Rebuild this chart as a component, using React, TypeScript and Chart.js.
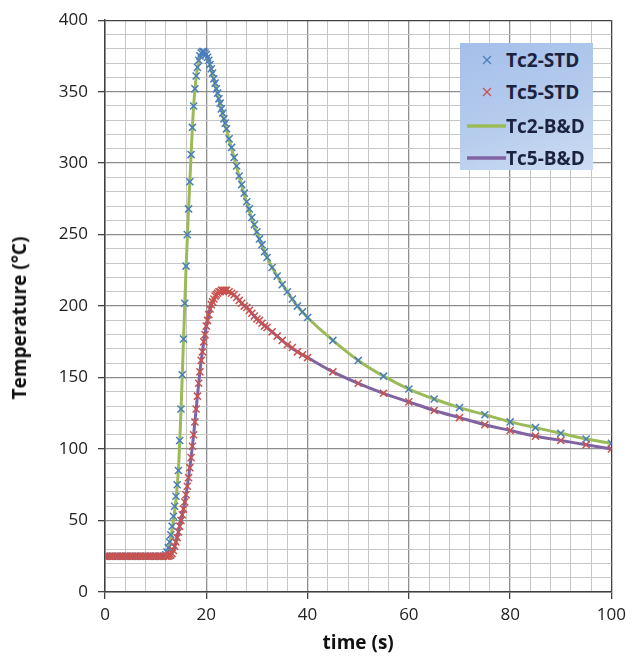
import React, { useEffect, useRef } from "react";
import { Chart, registerables } from "chart.js";

Chart.register(...registerables);

// ---------- data ----------
const stdTime = [
  0, 0.5, 1, 1.5, 2, 2.5, 3, 3.5, 4, 4.5, 5, 5.5, 6, 6.5, 7, 7.5, 8, 8.5, 9, 9.5, 10, 10.5, 11, 11.5, 12,
  12.25, 12.5, 12.75, 13, 13.25, 13.5, 13.75, 14, 14.25, 14.5, 14.75, 15, 15.25, 15.5, 15.75, 16,
  16.25, 16.5, 16.75, 17, 17.25, 17.5, 17.75, 18, 18.25, 18.5, 18.75, 19, 19.25, 19.5, 19.75, 20,
  20.25, 20.5, 20.75, 21, 21.25, 21.5, 21.75, 22, 22.25, 22.5, 22.75, 23, 23.25, 23.5, 23.75, 24,
  24.5, 25, 25.5, 26, 26.5, 27, 27.5, 28, 28.5, 29, 29.5, 30, 30.5, 31, 31.5, 32,
  33, 34, 35, 36, 37, 38, 39, 40,
  45, 50, 55, 60, 65, 70, 75, 80, 85, 90, 95, 100,
];

const tc2Std = [
  25, 25, 25, 25, 25, 25, 25, 25, 25, 25, 25, 25, 25, 25, 25, 25, 25, 25, 25, 25, 25, 25, 25, 25, 26,
  28, 31, 35, 40, 46, 53, 60, 67, 75, 85, 106, 128, 152, 177, 202, 228,
  250, 268, 287, 306, 325, 340, 352, 361, 367, 372, 375, 377, 378, 378, 377, 376,
  374, 372, 369, 366, 363, 359, 356, 352, 349, 345, 342, 338, 335, 331, 328, 324,
  317, 311, 304, 298, 291, 285, 279, 273, 268, 262, 257, 252, 247, 243, 238, 234,
  227, 221, 215, 210, 205, 200, 196, 192,
  176, 162, 151, 142, 135, 129, 124, 119, 115, 111, 107, 104,
];

const tc5Std = [
  25, 25, 25, 25, 25, 25, 25, 25, 25, 25, 25, 25, 25, 25, 25, 25, 25, 25, 25, 25, 25, 25, 25, 25, 25,
  25, 25, 25.5, 26, 27, 29, 32, 35, 38, 42, 46, 50, 54, 58, 63, 68,
  74, 80, 87, 94, 102, 110, 119, 128, 137, 146, 154, 162, 168, 175, 180, 186,
  190, 194, 198, 201, 203, 205, 207, 208, 209, 210, 210, 211, 211, 211, 211, 211,
  210, 209, 208, 206, 204, 202, 200, 199, 197, 195, 193, 191, 190, 188, 186, 185,
  182, 179, 176, 173, 171, 168, 166, 164,
  154, 146, 139, 133, 127, 122, 117, 113, 109, 106, 103, 100,
];

const bdTime = [
  0, 11, 12, 12.5, 13, 13.5, 14, 14.5, 15, 15.5, 16, 16.5, 17, 17.5, 18, 18.5, 19, 19.5, 20, 20.5,
  21, 22, 23, 24, 25, 26, 27, 28, 29, 30, 32, 34, 36, 38, 40,
  45, 50, 55, 60, 65, 70, 75, 80, 85, 90, 95, 100,
];

const tc2BD = [
  25, 25, 26, 30, 38, 50, 64, 86, 126, 176, 226, 268, 306, 340, 360, 371, 376, 377, 375, 371,
  365, 351, 337, 323, 310, 297, 284, 272, 261, 251, 234, 221, 210, 200, 192,
  176, 162, 151, 142, 135, 129, 124, 119, 115, 111, 107, 104,
];

const tc5BD = [
  25, 25, 25, 25, 26, 29, 35, 42, 50, 58, 68, 80, 94, 110, 128, 146, 162, 175, 186, 194,
  201, 208, 210, 210, 209, 206, 202, 199, 195, 191, 185, 179, 173, 168, 164,
  154, 146, 139, 133, 127, 122, 117, 113, 109, 106, 103, 100,
];

const seriesNames = ["Tc2-STD", "Tc5-STD", "Tc2-B&D", "Tc5-B&D"];
const xTitle = "time (s)";
const yTitle = "Temperature (°C)";
const xMin = 0, xMax = 100, xMajor = 20, xMinor = 4;
const yMin = 0, yMax = 400, yMajor = 50, yMinor = 10;

// ---------- styles ----------
const COLORS = ["#4a7ebb", "#c9524f", "#9bbb59", "#8064a2"];
const FONT = "'Open Sans', 'DejaVu Sans', sans-serif";
const AXIS = "#404040";
const MAJOR = "#8e8e8e";
const MINOR = "#c6c6c6";

function gridColor(v: number, major: number, max: number) {
  if (v === max) return AXIS;
  return v % major === 0 ? MAJOR : MINOR;
}

function pts(xs: number[], ys: number[]) {
  return xs.map((x, i) => ({ x, y: ys[i] }));
}

const legendRows = [
  { y: 60, kind: "x" },
  { y: 92, kind: "x" },
  { y: 126, kind: "line" },
  { y: 158, kind: "line" },
];

export default function App() {
  const ref = useRef<HTMLCanvasElement>(null);

  useEffect(() => {
    document.body.style.margin = "0";
    const canvas = ref.current!;
    const chart = new Chart(canvas, {
      type: "scatter",
      data: {
        datasets: [
          {
            label: seriesNames[0],
            data: pts(stdTime, tc2Std),
            showLine: false,
            pointStyle: "crossRot",
            pointRadius: 5,
            pointBorderWidth: 1.5,
            borderColor: COLORS[0],
            backgroundColor: COLORS[0],
            order: 1,
          },
          {
            label: seriesNames[1],
            data: pts(stdTime, tc5Std),
            showLine: false,
            pointStyle: "crossRot",
            pointRadius: 5,
            pointBorderWidth: 1.5,
            borderColor: COLORS[1],
            backgroundColor: COLORS[1],
            order: 0,
          },
          {
            label: seriesNames[2],
            data: pts(bdTime, tc2BD),
            showLine: true,
            pointRadius: 0,
            borderColor: COLORS[2],
            backgroundColor: COLORS[2],
            borderWidth: 3,
            cubicInterpolationMode: "monotone",
            order: 2,
          },
          {
            label: seriesNames[3],
            data: pts(bdTime, tc5BD),
            showLine: true,
            pointRadius: 0,
            borderColor: COLORS[3],
            backgroundColor: COLORS[3],
            borderWidth: 3,
            cubicInterpolationMode: "monotone",
            order: 2,
          },
        ],
      },
      options: {
        responsive: false,
        animation: false,
        devicePixelRatio: 1,
        layout: { padding: { top: 20, right: 19, left: 0, bottom: 0 } },
        plugins: {
          legend: { display: false },
          tooltip: { enabled: false },
        },
        scales: {
          x: {
            type: "linear",
            min: xMin,
            max: xMax,
            ticks: {
              stepSize: xMinor,
              autoSkip: false,
              maxRotation: 0,
              padding: 6,
              color: "#222",
              font: { family: FONT, size: 17 },
              callback: (v: any) => (Number(v) % xMajor === 0 ? String(v) : ""),
            },
            grid: {
              color: (c: any) => gridColor(c.tick.value, xMajor, xMax),
              lineWidth: (c: any) => (c.tick.value % xMajor === 0 ? 1.3 : 1),
              tickLength: 7,
              tickColor: (c: any) => (c.tick.value % xMajor === 0 ? AXIS : "rgba(0,0,0,0)"),
            },
            border: { color: AXIS, width: 1.5 },
            title: {
              display: true,
              text: xTitle,
              color: "#111",
              font: { family: FONT, size: 19, weight: "bold" },
              padding: { top: 2, bottom: 7 },
            },
            afterFit: (s: any) => {
              s.height = 70;
            },
          },
          y: {
            type: "linear",
            min: yMin,
            max: yMax,
            ticks: {
              stepSize: yMinor,
              autoSkip: false,
              maxTicksLimit: 100,
              padding: 10,
              color: "#222",
              font: { family: FONT, size: 17 },
              callback: (v: any) => (Number(v) % yMajor === 0 ? String(v) : ""),
            },
            grid: {
              color: (c: any) => gridColor(c.tick.value, yMajor, yMax),
              lineWidth: (c: any) => (c.tick.value % yMajor === 0 ? 1.3 : 1),
              tickLength: 7,
              tickColor: (c: any) => (c.tick.value % yMajor === 0 ? AXIS : "rgba(0,0,0,0)"),
            },
            border: { color: AXIS, width: 1.5 },
            title: { display: false },
            afterFit: (s: any) => {
              s.width = 105;
            },
          },
        },
      },
    } as any);
    return () => chart.destroy();
  }, []);

  return (
    <div style={{ position: "relative", width: 632, height: 662, background: "#fff" }}>
      <canvas ref={ref} width={632} height={662} style={{ display: "block" }} />
      <div
        style={{
          position: "absolute",
          left: 19,
          top: 318,
          transform: "translate(-50%, -50%) rotate(-90deg)",
          fontFamily: FONT,
          fontWeight: 700,
          fontSize: 19,
          color: "#111",
          whiteSpace: "nowrap",
          lineHeight: "24px",
        }}
      >
        {yTitle}
      </div>
      <div
        style={{
          position: "absolute",
          left: 460,
          top: 43,
          width: 133,
          height: 127,
          background: "linear-gradient(160deg, #a4bfea 0%, #b6cced 55%, #cddcf3 100%)",
        }}
      >
        {legendRows.map((r, i) => (
          <div
            key={i}
            style={{
              position: "absolute",
              left: 0,
              top: r.y - 43 - 13,
              height: 26,
              width: 133,
              display: "flex",
              alignItems: "center",
            }}
          >
            <svg width={46} height={26} style={{ display: "block", flex: "none" }}>
              {r.kind === "x" ? (
                <g stroke={COLORS[i]} strokeWidth={1.3}>
                  <line x1={23} y1={9} x2={31} y2={17} />
                  <line x1={31} y1={9} x2={23} y2={17} />
                </g>
              ) : (
                <line x1={7} y1={13} x2={46} y2={13} stroke={COLORS[i]} strokeWidth={3.5} />
              )}
            </svg>
            <span
              style={{
                fontFamily: FONT,
                fontWeight: 700,
                fontSize: 19,
                color: "#1b2340",
                whiteSpace: "nowrap",
                lineHeight: "26px",
              }}
            >
              {seriesNames[i]}
            </span>
          </div>
        ))}
      </div>
    </div>
  );
}
